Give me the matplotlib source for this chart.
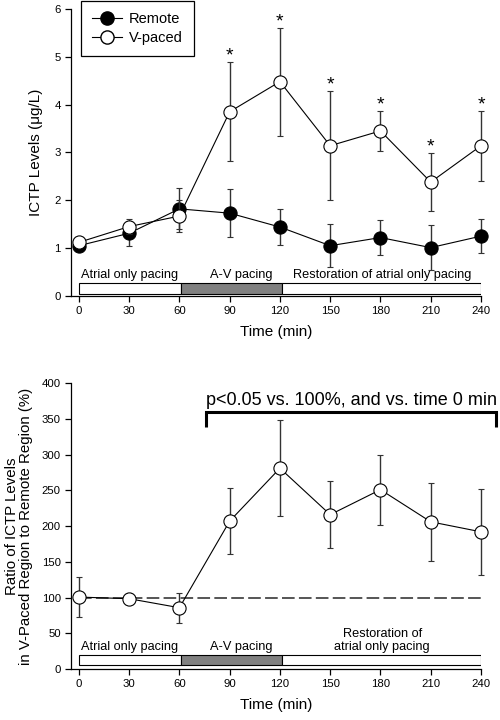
import numpy as np
import matplotlib
matplotlib.use("Agg")
import matplotlib.pyplot as plt
from matplotlib.lines import Line2D

plt.rcParams['font.family'] = ['Liberation Sans', 'DejaVu Sans']

# time points (min)
times = [0, 30, 60, 90, 120, 150, 180, 210, 240]

# top panel: ICTP levels (ug/L)
remote = [1.05, 1.31, 1.82, 1.73, 1.44, 1.05, 1.22, 1.01, 1.25]
remote_err = [0.12, 0.26, 0.43, 0.50, 0.37, 0.45, 0.36, 0.47, 0.36]
vpaced = [1.12, 1.45, 1.67, 3.85, 4.48, 3.14, 3.45, 2.38, 3.14]
vpaced_err = [0.12, 0.16, 0.34, 1.03, 1.13, 1.14, 0.41, 0.60, 0.73]
star_times = [90, 120, 150, 180, 210, 240]

# bottom panel: ratio V-paced / remote (%)
ratio = [100.7, 98.4, 85.8, 207, 281, 216, 251, 206, 192]
ratio_err = [28, 8, 21, 46, 67, 47, 49, 55, 60]

# pacing protocol phases (start, end, colour)
phases = [(0, 61, 'white'), (61, 121, '#808080'), (121, 240, 'white')]

fig = plt.figure(figsize=(5, 7.2), dpi=100)
ax1 = fig.add_axes([0.141, 0.589, 0.821, 0.3986])
ax2 = fig.add_axes([0.141, 0.0708, 0.821, 0.397])

line_kw = dict(color='black', lw=0.8, ms=9.5, mec='black', mew=0.8,
               ecolor='#333333', elinewidth=1.0, capsize=2.3, capthick=1.0,
               clip_on=False)


def style_axes(ax, ylim, yticks):
    ax.set_xlim(-5, 240)
    ax.set_ylim(*ylim)
    ax.set_xticks(times)
    ax.set_yticks(yticks)
    for s in ['top', 'right']:
        ax.spines[s].set_visible(False)
    for s in ['left', 'bottom']:
        ax.spines[s].set_linewidth(0.9)
    ax.tick_params(direction='out', length=4, width=0.9, labelsize=8.2, pad=3)
    ax.set_xlabel('Time (min)', fontsize=11, labelpad=7)


def draw_phases(ax, y0, h, labels):
    for (a, b, c) in phases:
        ax.add_patch(plt.Rectangle((a, y0), b - a, h, facecolor=c,
                                   edgecolor='black', lw=0.8, zorder=1))
    for x, txt in labels:
        ax.text(x, y0 + h * 1.15, txt, ha='center', va='bottom',
                fontsize=9.2, linespacing=1.1)


# ---- top panel ----
ax1.errorbar(times, remote, yerr=remote_err, fmt='o-', mfc='black',
             zorder=3, **line_kw)
ax1.errorbar(times, vpaced, yerr=vpaced_err, fmt='o-', mfc='white',
             zorder=4, **line_kw)
for t in star_times:
    i = times.index(t)
    ax1.text(t, vpaced[i] + vpaced_err[i] - 0.05, '*', ha='center',
             va='bottom', fontsize=14)
style_axes(ax1, (0, 6), range(0, 7))
ax1.set_ylabel('ICTP Levels (\u03bcg/L)', fontsize=11, labelpad=8)
draw_phases(ax1, 0.05, 0.23, [(30, 'Atrial only pacing'), (97, 'A-V pacing'),
                             (181, 'Restoration of atrial only pacing')])

handles = [Line2D([], [], color='black', lw=0.8, marker='o', ms=9.5,
                  mfc='black', mec='black'),
           Line2D([], [], color='black', lw=0.8, marker='o', ms=9.5,
                  mfc='white', mec='black')]
leg = ax1.legend(handles, ['Remote', 'V-paced'], loc='upper left',
                 bbox_to_anchor=(0.025, 1.029), borderaxespad=0,
                 fontsize=10.5, fancybox=False,
                 edgecolor='black', framealpha=1, handlelength=2.0,
                 borderpad=0.8, labelspacing=0.3, handletextpad=0.5)
leg.get_frame().set_linewidth(0.9)

# ---- bottom panel ----
ax2.plot([0, 240], [100, 100], ls=(0, (6.5, 2.2)), color='#555555', lw=1.4,
         zorder=2)
ax2.errorbar(times, ratio, yerr=ratio_err, fmt='o-', mfc='white',
             zorder=4, **line_kw)
style_axes(ax2, (0, 400), range(0, 401, 50))
ax2.set_ylabel('Ratio of ICTP Levels\nin V-Paced Region to Remote Region (%)',
               fontsize=10.8, labelpad=6, linespacing=1.05)
draw_phases(ax2, 5, 15, [(30, 'Atrial only pacing'), (97, 'A-V pacing'),
                         (181, 'Restoration of\natrial only pacing')])

# significance bracket
ax2.plot([76, 76, 249, 249], [339, 360, 360, 339], color='black', lw=2.2,
         clip_on=False, solid_capstyle='butt', solid_joinstyle='miter')
ax2.text(162.5, 364, 'p<0.05 vs. 100%, and vs. time 0 min', ha='center',
         va='bottom', fontsize=13)

fig.savefig('out.png', dpi=100)
